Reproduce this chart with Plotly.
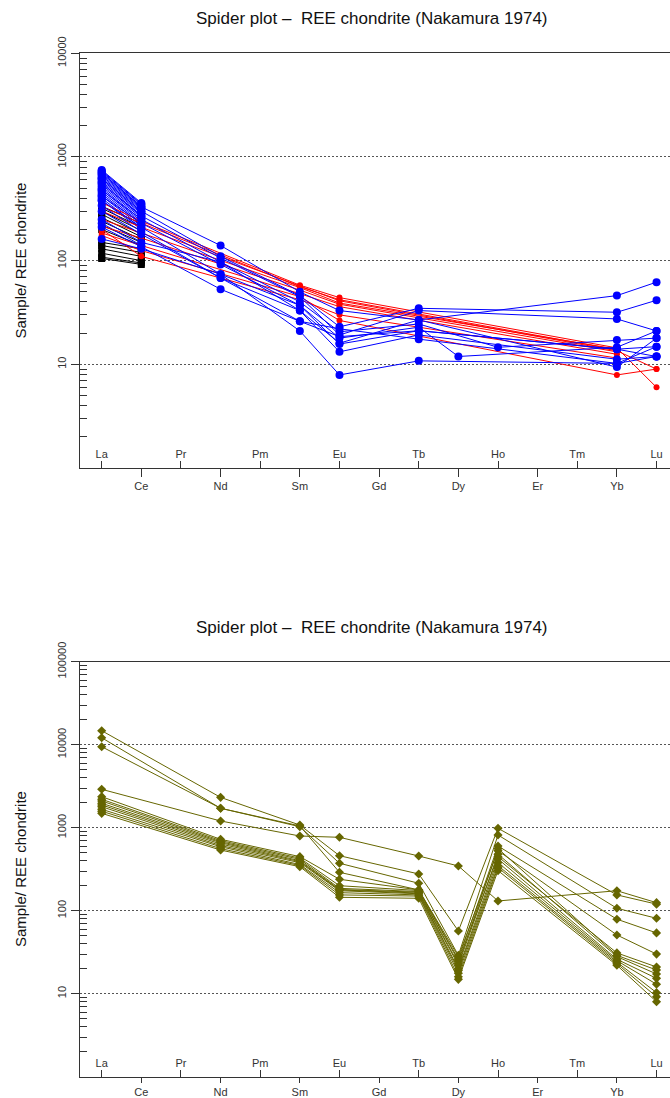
import plotly.graph_objects as go

ELEMENTS = ["La", "Ce", "Pr", "Nd", "Pm", "Sm", "Eu", "Gd", "Tb", "Dy", "Ho", "Er", "Tm", "Yb", "Lu"]
TITLE = "Spider plot \u2013  REE chondrite (Nakamura 1974)"
Y_TITLE = "Sample/ REE chondrite"

# ---------------- top chart data ----------------
TOP_BLACK_LA = [105, 108, 118, 130, 140, 150, 200, 220, 240, 260, 280, 300, 320, 335]
TOP_BLACK_CE = [92, 95, 100, 110, 120, 130, 140, 150, 160, 170, 180, 195, 210, 228]

TOP_BLUE_LC_LA = [750, 735, 720, 700, 680, 660, 640, 620, 600, 580, 560, 540, 520, 500, 480, 460, 440, 420, 400, 380, 230]
TOP_BLUE_LC_CE = [360, 352, 345, 335, 325, 318, 310, 300, 292, 285, 275, 268, 260, 250, 240, 232, 225, 215, 205, 200, 140]

TOP_RED_ELEMS = ["La", "Ce", "Sm", "Eu", "Yb", "Lu"]
TOP_RED = [
    [362, 240, 58, 44, 14.4, 6.0],
    [330, 230, 56, 42, 13.8, None],
    [300, 210, 57, 41, 13.5, 9.0],
    [250, 185, 55, 39, 14.0, None],
    [215, 165, 52, 38, 13.2, None],
    [185, 140, 48, 36, 12.5, None],
    [175, 125, 45, 26.5, 7.9, 9.0],
    [200, 110, 42, 30, 11.5, None],
]

TOP_BLUE_ELEMS = ["La", "Ce", "Nd", "Sm", "Eu", "Tb", "Dy", "Ho", "Yb", "Lu"]
TOP_BLUE = [
    [700, 330, 140, 50, 33, 26.8, None, None, 46, 62],
    [620, 300, 110, 46, 23, 34.7, None, None, 31.8, 41.5],
    [560, 270, 106, 45, 19.2, 33, None, None, 27.4, 21],
    [480, 250, 97, 40, 20.6, 24.5, None, 14.6, 17.2, 17.9],
    [420, 230, 92, 37, 17.9, 22.8, 11.9, None, 14.6, 21],
    [380, 210, 74, 37, 15.7, 21.1, None, None, 14.0, 14.8],
    [300, 180, 68, 33, 13.2, 19.2, None, None, 11.2, 11.9],
    [211, 136, 53, 26, 22, 17.5, None, None, 10.2, 14.8],
    [162, 130, 74, 21, 7.9, 10.8, None, None, 10.2, 11.9],
    [250, 150, 97, 33, 16, 26.8, None, None, 9.4, 17.9],
    [340, 190, 68, 26, 18.5, 21.1, None, None, 14.0, 11.9],
]

# ---------------- bottom chart data ----------------
BOTTOM_ELEMS = ["La", "Nd", "Sm", "Eu", "Tb", "Dy", "Ho", "Yb", "Lu"]
BOTTOM = [
    [14750, 2320, 1076, 460, 277, 57, 984, 155, 120],
    [12130, 1714, 1028, 373, 214, 29, 817, 107, 81],
    [9460, 1714, 1050, 290, 178, 26, 602, 79, 54],
    [2900, 1205, 794, 766, 456, 346, 131, 174, 125],
    [2365, 725, 448, 239, 178, 28, 529, 51, 30],
    [2200, 700, 430, 200, 175, 25, 448, 31, 21],
    [2100, 678, 416, 186, 170, 23, 560, 29, 19.3],
    [1970, 660, 400, 180, 167, 22, 480, 28, 17.3],
    [1880, 636, 390, 178, 163, 20, 420, 26, 15.3],
    [1790, 610, 379, 174, 160, 19, 380, 25, 13],
    [1667, 590, 360, 165, 155, 17.6, 349, 24, 10.3],
    [1580, 560, 350, 155, 150, 16, 330, 23, 9.2],
    [1490, 538, 339, 145, 141, 14.9, 304, 22, 8],
]

BLUE = "#0000ff"
RED = "#ff0000"
BLACK = "#000000"
OLIVE = "#666600"
AXIS_COL = "#333333"
LABEL_COL = "#333333"
FONT = "Liberation Sans, Arial, sans-serif"

idx = {e: i for i, e in enumerate(ELEMENTS)}

fig = go.Figure()


def add_series(elems, vals, color, symbol, size, xa, ya, width=1.0):
    fig.add_trace(go.Scatter(
        x=[idx[e] for e in elems], y=vals, mode="lines+markers",
        connectgaps=True, xaxis=xa, yaxis=ya, showlegend=False,
        line=dict(color=color, width=width),
        marker=dict(color=color, symbol=symbol, size=size, line=dict(width=0)),
        hoverinfo="skip"))


# top: black La-Ce
for a, b in zip(TOP_BLACK_LA, TOP_BLACK_CE):
    add_series(["La", "Ce"], [a, b], BLACK, "square", 7, "x", "y")
# top: blue La-Ce only
for a, b in zip(TOP_BLUE_LC_LA, TOP_BLUE_LC_CE):
    add_series(["La", "Ce"], [a, b], BLUE, "circle", 8, "x", "y")
# top: red
for row in TOP_RED:
    add_series(TOP_RED_ELEMS, row, RED, "circle", 6, "x", "y")
# top: blue full
for row in TOP_BLUE:
    add_series(TOP_BLUE_ELEMS, row, BLUE, "circle", 8, "x", "y")
# bottom: olive
for row in BOTTOM:
    add_series(BOTTOM_ELEMS, row, OLIVE, "diamond", 7, "x2", "y2")

# empty traces so that the overlay axes (inside labels) are drawn
fig.add_trace(go.Scatter(x=[], y=[], xaxis="x3", yaxis="y", showlegend=False, hoverinfo="skip"))
fig.add_trace(go.Scatter(x=[], y=[], xaxis="x4", yaxis="y2", showlegend=False, hoverinfo="skip"))

H = 1098.0
W = 670.0
XL = 79.5 / W
XR = [-0.56, 14.34]

odd = [i for i in range(len(ELEMENTS)) if i % 2 == 1]
even = [i for i in range(len(ELEMENTS)) if i % 2 == 0]

tickfont = dict(family=FONT, size=11, color=LABEL_COL)


def xaxis_main(anchor, ticklen):
    return dict(domain=[XL, 1], range=XR, anchor=anchor, showgrid=False, zeroline=False,
                automargin=False,
                showline=True, linecolor=AXIS_COL, linewidth=1, mirror=True,
                tickmode="array", tickvals=odd, ticktext=[ELEMENTS[i] for i in odd],
                ticks="outside", ticklen=ticklen, tickcolor=AXIS_COL, tickfont=tickfont)


def xaxis_over(over, anchor):
    return dict(range=XR, overlaying=over, anchor=anchor, side="bottom",
                automargin=False,
                showgrid=False, zeroline=False, showline=False,
                tickmode="array", tickvals=even, ticktext=[ELEMENTS[i] for i in even],
                ticks="inside", ticklen=7, tickcolor=AXIS_COL,
                ticklabelposition="inside", tickfont=tickfont)


def yaxis(dom, decades, anchor):
    majors = [10 ** e for e in range(decades + 1)]
    minors = [m * 10 ** e for e in range(decades) for m in range(2, 10)]
    return dict(domain=dom, type="log", range=[0, decades], anchor=anchor,
                automargin=False,
                showline=True, linecolor=AXIS_COL, linewidth=1, zeroline=False,
                tickmode="array", tickvals=majors, ticktext=[str(v) for v in majors],
                tickangle=-90, ticks="outside", ticklen=8, tickcolor=AXIS_COL,
                tickfont=tickfont,
                showgrid=True, gridcolor="#555555", griddash="2px,2px", gridwidth=1,
                minor=dict(tickmode="array", tickvals=minors, ticks="inside",
                           ticklen=7, tickcolor=AXIS_COL, showgrid=False))


top_dom = [1 - 468.0 / H, 1 - 53.3 / H]
bot_dom = [1 - 1076.7 / H, 1 - 661.7 / H]

fig.update_layout(
    width=670, height=1098, margin=dict(l=0, r=0, t=0, b=0, autoexpand=False),
    paper_bgcolor="white", plot_bgcolor="white",
    font=dict(family=FONT, color="#222222"),
    xaxis=xaxis_main("y", 8), yaxis=yaxis(top_dom, 4, "x"),
    xaxis2=xaxis_main("y2", 5), yaxis2=yaxis(bot_dom, 5, "x2"),
    xaxis3=xaxis_over("x", "y"), xaxis4=xaxis_over("x2", "y2"),
)

for ty, cy in [(18.0, 260.5), (627.0, 869.0)]:
    fig.add_annotation(text=TITLE, x=372 / W, y=1 - ty / H, xref="paper", yref="paper",
                       showarrow=False, font=dict(family=FONT, size=17, color="#111111"),
                       xanchor="center", yanchor="middle")
    fig.add_annotation(text=Y_TITLE, x=20 / W, y=1 - cy / H, xref="paper", yref="paper",
                       showarrow=False, textangle=-90,
                       font=dict(family=FONT, size=15, color="#111111"),
                       xanchor="center", yanchor="middle")

fig.write_html(
    "out.html",
    config={"displayModeBar": False},
    post_script="document.body.style.margin='0';document.body.style.overflow='hidden';",
)
